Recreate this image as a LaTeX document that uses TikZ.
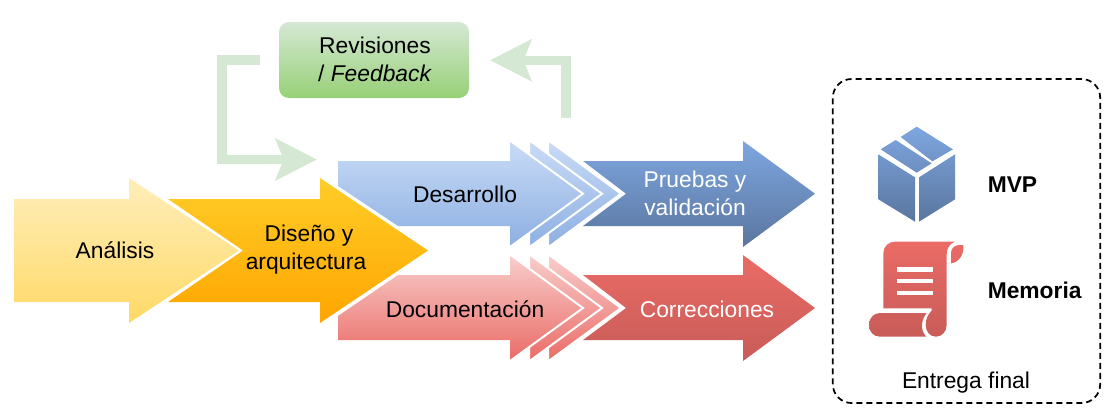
\documentclass[tikz,border=0pt]{standalone}
\usepackage{fontspec}
\setmainfont{Liberation Sans}
\usetikzlibrary{arrows.meta}
\definecolor{fbgreen}{HTML}{D5E8D4}
\definecolor{revtop}{HTML}{D5E8D4}
\definecolor{revbot}{HTML}{97D077}
\definecolor{anatop}{HTML}{FFEEBB}
\definecolor{anabot}{HTML}{FFD966}
\definecolor{distop}{HTML}{FFCD28}
\definecolor{disbot}{HTML}{FFA500}
\definecolor{destop}{HTML}{C9DCF6}
\definecolor{desbot}{HTML}{8DAFE2}
\definecolor{doctop}{HTML}{F8CECC}
\definecolor{docbot}{HTML}{EA6B66}
\definecolor{prutop}{HTML}{7EA6E0}
\definecolor{prubot}{HTML}{5A769F}
\definecolor{cortop}{HTML}{EA6B66}
\definecolor{corbot}{HTML}{C85C58}
\tikzset{
  x=0.75pt,y=-0.75pt,
  lbl/.style={font=\fontsize{17.1}{21}\selectfont,align=center,inner sep=0pt,text=black},
  lblw/.style={lbl,text=white},
  lblb/.style={lbl,font=\fontsize{17.1}{21}\selectfont\bfseries,anchor=west},
  sep/.style={draw=white,line width=1.5pt,line join=miter},
  fbarrow/.style={draw=fbgreen,line width=7.1pt,line join=miter,
    -{Stealth[length=31pt,width=31pt,inset=6pt,fill=fbgreen]}},
  blueL/.style={top color=destop,bottom color=desbot},
  redL/.style={top color=doctop,bottom color=docbot},
  blueD/.style={top color=prutop,bottom color=prubot},
  redD/.style={top color=cortop,bottom color=corbot},
}
\begin{document}
\begin{tikzpicture}
\useasboundingbox (0,0) rectangle (1113,418);

% Feedback loop
\node[draw=none,rounded corners=7.5pt,top color=revtop,bottom color=revbot,
      minimum width=142.5pt,minimum height=57pt,inner sep=0pt] (rev) at (374,60) {};
\node[lbl] (revt) at (375,59.5) {Revisiones\\/ \textit{Feedback}};
\coordinate (fa0) at (260,60);
\coordinate (fa1) at (222,60);
\coordinate (fa2) at (222,159.5);
\coordinate (fa3) at (317,159.5);
\coordinate (fb0) at (566,118);
\coordinate (fb1) at (566,60.3);
\coordinate (fb2) at (490,60.3);
\draw[fbarrow] (fa0) -- (fa1) -- (fa2) -- (fa3);
\draw[fbarrow] (fb0) -- (fb1) -- (fb2);

% Diseno and Analisis
\path[top color=distop,bottom color=disbot]
  (168,199) -- (320,199) -- (320,178) -- (428,250.5) -- (320,323) -- (320,302) -- (168,302) -- (243,250.5) -- cycle;
\path[top color=anatop,bottom color=anabot]
  (14,199) -- (129,199) -- (129,178) -- (239,250.5) -- (129,323) -- (129,302) -- (14,302) -- cycle;
\node[lbl] (ana) at (115,250.5) {Análisis};
\node[lbl] (dis) at (306,250) {\hspace*{4.5pt}Diseño y\\arquitectura};

% Blue row
\path[blueD]
  (583,161) -- (743,161) -- (743,141) -- (815,193.7) -- (743,247) -- (743,226) -- (583,226) -- (626,193.7) -- cycle;
\path[blueL,sep,top color=destop,bottom color=desbot] (548,140) -- (621,193.7) -- (548,247.5) -- cycle;
\path[blueL,sep,top color=destop,bottom color=desbot] (529,140) -- (602,193.7) -- (529,247.5) -- cycle;
\path[blueL]
  (338,161) -- (510,161) -- (510,140.5) -- (582,193.7) -- (510,247) -- (510,226) -- (398,226) -- (338,186) -- cycle;
\draw[white,line width=1.5pt] (510,140.5) -- (583,193.7) -- (510,247);
\node[lbl] (des) at (465,194) {Desarrollo};
\node[lblw] (pru) at (695,193.5) {Pruebas y\\validación};

% Red row
\path[redD]
  (583,275) -- (743,275) -- (743,255) -- (815,308) -- (743,361) -- (743,340) -- (583,340) -- (626,308) -- cycle;
\path[redL,sep,top color=doctop,bottom color=docbot] (548,254) -- (621,308) -- (548,361.5) -- cycle;
\path[redL,sep,top color=doctop,bottom color=docbot] (529,254) -- (602,308) -- (529,361.5) -- cycle;
\path[redL]
  (398,275) -- (510,275) -- (510,254.5) -- (582,308) -- (510,361) -- (510,340) -- (338,340) -- (338,316) -- cycle;
\draw[white,line width=1.5pt] (510,254.5) -- (583,308) -- (510,361);
\node[lbl] (doc) at (465,309) {Documentación};
\node[lblw] (cor) at (707,309) {Correcciones};

% Final delivery
\node[draw=black,dash pattern=on 4.5pt off 3pt,line width=1.3pt,rounded corners=14pt,
      minimum width=200.5pt,minimum height=243pt,inner sep=0pt] (ent) at (966.5,241) {};
\node[lbl] (entt) at (966,382.5) {Entrega final};
\node[lblb] (mvp) at (987.5,185) {MVP};
\node[lblb] (mem) at (987.5,290) {Memoria};

\begin{scope}[shift={(825,70)},x=0.25pt,y=-0.25pt]
  % box icon
  \path[top color=prutop,bottom color=prubot]
    (275,170) -- (384,238) -- (322,274) -- (227,201) -- cycle
    (212,210) -- (167,238) -- (275,308) -- (320,280) -- cycle
    (160,253) -- (270,322) -- (270,455) -- (160,388) -- cycle
    (282,322) -- (390,253) -- (390,388) -- (282,455) -- cycle;
  % scroll icon
  \path[top color=cortop,bottom color=corbot]
    (175,715) -- (175,550) .. controls (175,530) and (190,515) .. (210,515)
      -- (390,515) .. controls (375,520) and (365,535) .. (365,552)
      -- (365,765) .. controls (365,785) and (350,800) .. (333,800)
      .. controls (315,800) and (302,785) .. (302,765)
      .. controls (302,745) and (310,732) .. (320,722) -- (320,715) -- cycle
    (378,580) -- (378,548) .. controls (378,535) and (390,525) .. (402,525)
      -- (415,525) .. controls (418,555) and (400,578) .. (378,580) -- cycle
    (165,729) -- (305,729) .. controls (292,745) and (282,775) .. (303,800)
      -- (165,800) .. controls (145,800) and (132,785) .. (132,765)
      .. controls (132,745) and (145,729) .. (165,729) -- cycle;
  \fill[white] (216,592) rectangle (325,605);
  \fill[white] (216,627) rectangle (325,640);
  \fill[white] (216,662) rectangle (325,675);
\end{scope}
\end{tikzpicture}
\end{document}
